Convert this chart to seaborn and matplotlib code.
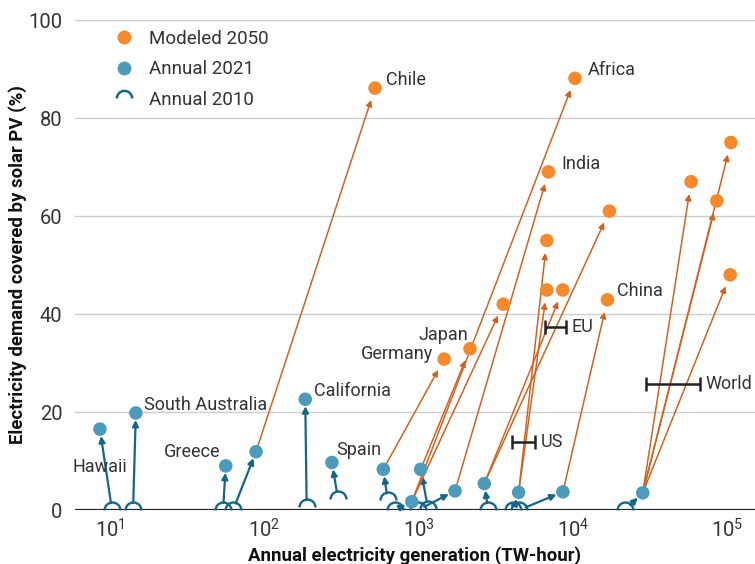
import numpy as np
import pandas as pd
import seaborn as sns
import matplotlib.pyplot as plt
from matplotlib.path import Path
from matplotlib.lines import Line2D

# 2010 and 2021 values per region
region = ["Hawaii", "South Australia", "Greece", "Chile", "California", "Spain",
          "Germany", "Africa", "Japan", "India", "EU", "US", "China", "World"]
gen_2010 = [10.3, 14.1, 54, 62.7, 188, 300, 630, 703, 1150, 990, 2820, 4090, 4480, 21800]
share_2010 = [0, 0, 0, 0, 0.6, 2.3, 2.0, 0, 0.3, 0, 0, 0, 0, 0]
gen_2021 = [8.6, 14.7, 56.2, 88.3, 184, 274, 590, 902, 1030, 1720, 2660, 4440, 8600, 28300]
share_2021 = [16.5, 19.8, 9.0, 11.9, 22.6, 9.7, 8.3, 1.7, 8.3, 3.9, 5.4, 3.6, 3.7, 3.5]

# modeled 2050 scenarios
scen_region = ["Chile", "Germany", "Japan", "Africa", "Africa", "India", "US", "US",
               "EU", "EU", "China", "World", "World", "World", "World"]
gen_2050 = [521, 1462, 2150, 10300, 3530, 6930, 6760, 6760,
            8570, 17200, 16700, 58200, 85400, 105400, 104300]
share_2050 = [86.1, 30.8, 32.9, 88.1, 42.0, 69.0, 55.0, 44.9,
              44.9, 61.0, 42.9, 67.0, 63.1, 75.0, 48.0]

# horizontal ranges
range_region = ["US", "EU", "World"]
range_lo = [4050, 6590, 29700]
range_hi = [5680, 9020, 66700]
range_share = [13.8, 37.4, 25.7]

df21 = pd.DataFrame({"region": region, "g10": gen_2010, "s10": share_2010,
                     "g21": gen_2021, "s21": share_2021})
df50 = pd.DataFrame({"region": scen_region, "g50": gen_2050, "s50": share_2050})
df50 = df50.merge(df21[["region", "g21", "s21"]], on="region")

orange = "#f5892b"
orange_line = "#cf6420"
blue = "#4d9bbb"
teal = "#15668a"
txt = "#333333"

sns.set_style("white")
plt.rcParams["font.family"] = ["Roboto", "DejaVu Sans"]
plt.rcParams["mathtext.default"] = "regular"

fig = plt.figure(figsize=(7.55, 5.64), dpi=100)
ax = fig.add_axes([75 / 755, 54 / 564, 680 / 755, 490 / 564])
ax.set_xscale("log")
ax.set_xlim(5.93, 151000)
ax.set_ylim(0, 100)

# arc marker for 2010
arc = Path.arc(0, 180)
arc_marker = Path(arc.vertices, arc.codes)

ax.axhline(0, color="#222222", lw=2.3, zorder=2)

# 2010 -> 2021 arrows
for _, r in df21.iterrows():
    ax.annotate("", xy=(r.g21, r.s21), xytext=(r.g10, r.s10),
                arrowprops=dict(arrowstyle="-|>", color=teal, lw=1.6,
                                shrinkA=5, shrinkB=5, mutation_scale=9),
                zorder=3)

# 2021 -> 2050 arrows
for _, r in df50.iterrows():
    ax.annotate("", xy=(r.g50, r.s50), xytext=(r.g21, r.s21),
                arrowprops=dict(arrowstyle="-|>", color=orange_line, lw=1.1,
                                shrinkA=0, shrinkB=9, mutation_scale=9),
                zorder=3)

ax.plot(df21.g10, df21.s10, ls="none", marker=arc_marker, ms=11.5,
        mfc="none", mec=teal, mew=1.7, zorder=4)
sns.scatterplot(data=df21, x="g21", y="s21", color=blue, s=95,
                edgecolor="none", zorder=5, ax=ax)
sns.scatterplot(data=df50, x="g50", y="s50", color=orange, s=95,
                edgecolor="none", zorder=5, ax=ax)

# range bars
mid = np.sqrt(np.array(range_lo) * np.array(range_hi))
ax.errorbar(x=mid, y=range_share,
            xerr=[mid - np.array(range_lo), np.array(range_hi) - mid],
            fmt="none", ecolor="#222222", elinewidth=1.8, capsize=5, capthick=1.8,
            zorder=4)

# labels
fs = 13
lab_2050 = {"Chile": (8, 6), "Africa": (9, 6), "India": (9, 6), "China": (7, 6)}
lab_2050_r = {"Japan": (-1, 10), "Germany": (-8, 4)}
lab_2021 = {"South Australia": (6, 6, "left"), "California": (6, 6, "left"),
            "Spain": (3, 9, "left"), "Greece": (-4, 10, "right"),
            "Hawaii": (0, -27, "center")}

for _, r in df50.drop_duplicates("region").iterrows():
    if r.region in lab_2050:
        ax.annotate(r.region, (r.g50, r.s50), xytext=lab_2050[r.region],
                    textcoords="offset points", ha="left", va="center",
                    fontsize=fs, color=txt, zorder=6)
    if r.region in lab_2050_r:
        ax.annotate(r.region, (r.g50, r.s50), xytext=lab_2050_r[r.region],
                    textcoords="offset points", ha="right", va="center",
                    fontsize=fs, color=txt, zorder=6)
for _, r in df21.iterrows():
    if r.region in lab_2021:
        dx, dy, ha = lab_2021[r.region]
        ax.annotate(r.region, (r.g21, r.s21), xytext=(dx, dy),
                    textcoords="offset points", ha=ha, va="center",
                    fontsize=fs, color=txt, zorder=6)
for name, hi, s in zip(range_region, range_hi, range_share):
    ax.annotate(name, (hi, s), xytext=(4, 0), textcoords="offset points",
                ha="left", va="center", fontsize=fs, color=txt, zorder=6)

# axes styling
for sp in ax.spines.values():
    sp.set_visible(False)
ax.set_yticks(range(0, 101, 20))
ax.yaxis.grid(True, color="#cccccc", lw=1)
ax.set_axisbelow(True)
ax.set_xticks([10, 100, 1000, 10000, 100000])
ax.set_xticklabels(["$10^{1}$", "$10^{2}$", "$10^{3}$", "$10^{4}$", "$10^{5}$"])
ax.minorticks_off()
ax.tick_params(axis="x", length=0, pad=6, labelsize=14.5, labelcolor=txt)
ax.tick_params(axis="y", length=6, width=1, color="#bbbbbb", pad=3,
               labelsize=14.5, labelcolor=txt)
ax.set_xlabel("Annual electricity generation (TW-hour)", fontsize=13.4,
              fontweight="bold", color="#111111", labelpad=3)
ax.set_ylabel("Electricity demand covered by solar PV (%)", fontsize=13.4,
              fontweight="bold", color="#111111", labelpad=1)

handles = [
    Line2D([], [], ls="none", marker="o", ms=10, mfc=orange, mec="none"),
    Line2D([], [], ls="none", marker="o", ms=10, mfc=blue, mec="none"),
    Line2D([], [], ls="none", marker=arc_marker, ms=11, mfc="none", mec=teal, mew=1.8),
]
ax.legend(handles, ["Modeled 2050", "Annual 2021", "Annual 2010"],
          loc="upper left", bbox_to_anchor=(0.02, 1.015), frameon=False,
          fontsize=13.5, labelspacing=0.68, handletextpad=0.3, labelcolor=txt)

fig.savefig("out.png", dpi=100)
